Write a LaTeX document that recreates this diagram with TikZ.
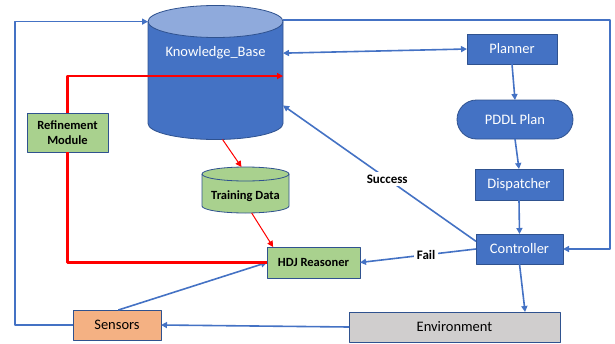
\documentclass[tikz,border=0pt]{standalone}
\usepackage{fontspec}
\setmainfont{Carlito}
\usetikzlibrary{arrows.meta,backgrounds}
\definecolor{boxblue}{HTML}{4472C4}
\definecolor{edgeblue}{HTML}{2F528F}
\definecolor{lightblue}{HTML}{8FAADC}
\definecolor{leafgreen}{HTML}{A9D18E}
\definecolor{peach}{HTML}{F4B183}
\definecolor{stone}{HTML}{D0CECE}
\tikzstyle{every node}=[font=\fontsize{14.5}{17}\selectfont,inner sep=0pt,outer sep=0pt]
\tikzstyle{every path}=[line join=round]
\tikzstyle{block}=[rectangle,draw=edgeblue,fill=boxblue,text=white,line width=0.8pt]
\tikzstyle{greenbox}=[block,fill=leafgreen,text=black,font=\fontsize{12.5}{15}\selectfont\bfseries,align=center]
\tikzstyle{rim}=[draw=edgeblue,line width=0.8pt]
\tikzstyle{flow}=[draw=boxblue,line width=1.6pt,-{Triangle[length=6pt,width=6pt]}]
\tikzstyle{feed}=[draw=red,line width=2.2pt,-{Triangle[length=6pt,width=6pt]}]
\tikzstyle{tag}=[fill=white,font=\fontsize{13}{15}\selectfont\bfseries,inner sep=3pt]

\begin{document}
\begin{tikzpicture}[x=1pt,y=-1pt]
    \useasboundingbox (0,0) rectangle (615,343);

    % data stores (outline only, drawn behind)
    \node[minimum width=135pt,minimum height=134pt,
        label={[text=white,yshift=19.5pt]center:Knowledge\_Base}] (kb) at (215.5,72.5) {};
    \node[minimum width=87pt,minimum height=46pt,
        label={[font=\fontsize{12.5}{15}\selectfont\bfseries,yshift=-6pt]center:Training Data}] (td) at (245.5,190) {};
    \begin{scope}[on background layer]
        \path[rim,fill=boxblue] ([yshift=-16pt]kb.north west) -- ([yshift=16pt]kb.south west)
            arc[start angle=180,end angle=360,x radius=67.5pt,y radius=16pt]
            -- ([yshift=-16pt]kb.north east);
        \path[rim,fill=lightblue] ([yshift=-16pt]kb.north) ellipse [x radius=67.5pt,y radius=16pt];
        \path[rim,fill=leafgreen] ([yshift=-7pt]td.north west) -- ([yshift=7pt]td.south west)
            arc[start angle=180,end angle=360,x radius=43.5pt,y radius=7pt]
            -- ([yshift=-7pt]td.north east);
        \path[rim,fill=leafgreen] ([yshift=-7pt]td.north) ellipse [x radius=43.5pt,y radius=7pt];
    \end{scope}

    % learning side
    \node[greenbox,minimum width=81pt,minimum height=39pt] (ref) at (67.5,132.5) {Refinement\\Module};
    \node[greenbox,minimum width=93pt,minimum height=31pt] (hdj) at (313.5,262.5) {HDJ Reasoner};
    \node[block,fill=peach,text=black,minimum width=88pt,minimum height=30pt] (sens) at (117,325) {Sensors};
    \node[block,fill=stone,text=black,minimum width=211pt,minimum height=30pt] (env) at (454.5,327) {Environment};

    % planning chain
    \node[block,minimum width=90pt,minimum height=30pt] (plan) at (512,49) {Planner};
    \node[block,rounded corners=19.5pt,minimum width=116pt,minimum height=39pt] (pddl) at (515,119.5) {PDDL Plan};
    \node[block,minimum width=88pt,minimum height=31pt] (disp) at (519,184.5) {Dispatcher};
    \node[block,minimum width=87pt,minimum height=30pt] (ctrl) at (519.5,249) {Controller};

    % outer loops
    \coordinate (lrim) at (15,0);
    \coordinate (rrim) at (610,0);
    \draw[flow] (sens.west) -- (sens.west -| lrim) |- (kb.143);
    \draw[flow,line width=2pt] (kb.38) -- (kb.38 -| rrim) |- (ctrl.east);

    % planner links
    \draw[flow,{Triangle[length=6pt,width=6pt]}-{Triangle[length=6pt,width=6pt]}] (kb.16) -- (plan.west);
    \draw[flow] (plan.south) -- (pddl.north);
    \draw[flow] (pddl.south) -- (disp.north);
    \draw[flow] (disp.south) -- (ctrl.north);
    \draw[flow] (ctrl.south) -- (env.12);
    \draw[flow] (env.west) -- (sens.east);
    \draw[flow] (sens.85) -- (hdj.west);

    % outcome of execution
    \draw[flow] (ctrl.170) -- node[tag,pos=0.46] {Success} (kb.-26);
    \draw[flow] (ctrl.west) -- node[tag,pos=0.43] {Fail} (hdj.east);

    % refinement loop
    \draw[feed] (ref.north) |- (kb.-3);
    \draw[feed,-] (ref.south) |- (hdj.west);
    \draw[feed,line width=1pt] (kb.-84) -- (td.100);
    \draw[feed,line width=1pt] (td.-75) -- (hdj.159);
\end{tikzpicture}
\end{document}
